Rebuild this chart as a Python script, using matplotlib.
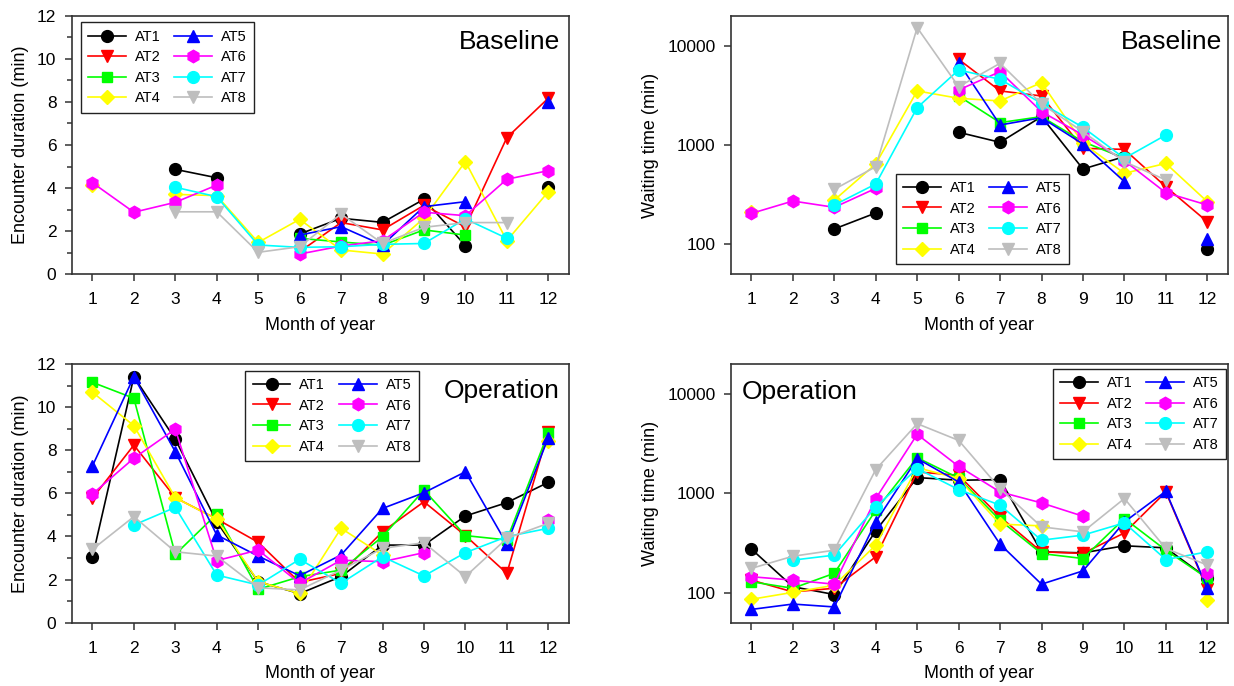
import numpy as np
import matplotlib
matplotlib.use("Agg")
import matplotlib.pyplot as plt
from matplotlib.ticker import FixedLocator, FuncFormatter, NullLocator, MultipleLocator

plt.rcParams['font.family'] = ['Liberation Sans', 'DejaVu Sans']

nan = np.nan
months = list(range(1, 13))
month_labels = [str(m) for m in months]
series_names = ["AT1", "AT2", "AT3", "AT4", "AT5", "AT6", "AT7", "AT8"]

# Baseline encounter duration (min)
base_dur_AT1 = [nan, nan, 4.87, 4.48, nan, 1.87, 2.6, 2.41, 3.48, 1.33, nan, 4.07]
base_dur_AT2 = [nan, nan, nan, nan, nan, 1.05, 2.4, 2.06, 3.2, 2.2, 6.34, 8.17]
base_dur_AT3 = [nan, nan, nan, nan, nan, 1.67, 1.5, 1.35, 2.06, 1.82, nan, nan]
base_dur_AT4 = [4.14, nan, 3.71, 3.65, 1.48, 2.55, 1.13, 0.94, 2.6, 5.23, 1.56, 3.83]
base_dur_AT5 = [nan, nan, nan, nan, nan, 1.82, 2.21, 1.36, 3.14, 3.37, nan, 8.01]
base_dur_AT6 = [4.25, 2.88, 3.34, 4.14, nan, 0.94, 1.31, 1.56, 2.88, 2.72, 4.41, 4.81]
base_dur_AT7 = [nan, nan, 4.04, 3.6, 1.36, 1.25, 1.28, 1.39, 1.43, 2.57, 1.67, nan]
base_dur_AT8 = [nan, nan, 2.9, 2.9, 1.02, 1.28, 2.8, 1.43, 2.18, 2.4, 2.4, nan]

# Baseline waiting time (min)
base_wait_AT1 = [nan, nan, 143, 207, nan, 1343, 1064, 1928, 573, 764, nan, 89]
base_wait_AT2 = [nan, nan, nan, nan, nan, 7280, 3500, 3115, 925, 904, 380, 169]
base_wait_AT3 = [nan, nan, nan, nan, nan, 3110, 1680, 1930, 1080, 735, nan, nan]
base_wait_AT4 = [213, nan, 279, 644, 3500, 2950, 2775, 4250, 1040, 519, 653, 269]
base_wait_AT5 = [nan, nan, nan, nan, nan, 6750, 1590, 1883, 1023, 428, nan, 112]
base_wait_AT6 = [205, 273, 236, 366, nan, 3580, 5470, 2166, 1260, 695, 331, 249]
base_wait_AT7 = [nan, nan, 249, 405, 2376, 5690, 4580, 2625, 1506, 735, 1260, nan]
base_wait_AT8 = [nan, nan, 358, 605, 15170, 3860, 6640, 2590, 1360, 679, 445, nan]

# Operation encounter duration (min)
op_dur_AT1 = [3.03, 11.41, 8.51, 4.68, 1.9, 1.35, 2.14, 3.6, 3.6, 4.95, 5.57, 6.51]
op_dur_AT2 = [5.77, 8.24, 5.8, 4.81, 3.73, 1.87, 2.29, 4.22, 5.61, 4.04, 2.29, 8.86]
op_dur_AT3 = [11.15, 10.41, 3.17, 5.04, 1.55, 2.13, 2.44, 3.99, 6.15, 4.04, 3.84, 8.81]
op_dur_AT4 = [10.69, 9.14, 5.8, 4.8, 1.9, 1.36, 4.38, 3.14, nan, nan, nan, 8.43]
op_dur_AT5 = [7.27, 11.41, 7.93, 4.07, 3.09, 2.18, 3.14, 5.3, 6.03, 7.0, 3.65, 8.58]
op_dur_AT6 = [5.97, 7.63, 8.98, 2.88, 3.37, 1.83, 2.9, 2.83, 3.25, nan, nan, 4.76]
op_dur_AT7 = [nan, 4.53, 5.35, 2.21, 1.75, 2.94, 1.83, 3.06, 2.17, 3.25, 3.99, 4.38]
op_dur_AT8 = [3.4, 4.92, 3.29, 3.09, 1.62, 1.52, 2.44, 3.45, 3.71, 2.14, 3.91, 4.61]

# Operation waiting time (min)
op_wait_AT1 = [275, 115, 96, 420, 1442, 1355, 1374, 258, 252, 297, 283, 140]
op_wait_AT2 = [134, 102, 111, 230, 1641, 1520, 580, 258, 249, 400, 1033, 108]
op_wait_AT3 = [129, 111, 157, 676, 2285, 1425, 537, 248, 221, 558, 268, 140]
op_wait_AT4 = [86, 101, 119, 301, 1816, 1406, 490, 471, nan, nan, nan, 85]
op_wait_AT5 = [68, 77, 72, 516, 2235, 1303, 308, 122, 166, 516, 1050, 111]
op_wait_AT6 = [145, 134, 122, 887, 3920, 1870, 1033, 801, 589, nan, nan, 159]
op_wait_AT7 = [nan, 213, 239, 729, 1775, 1092, 760, 338, 380, 505, 216, 258]
op_wait_AT8 = [176, 233, 268, 1734, 5020, 3410, 1117, 460, 410, 887, 279, 190]

base_dur = [base_dur_AT1, base_dur_AT2, base_dur_AT3, base_dur_AT4,
            base_dur_AT5, base_dur_AT6, base_dur_AT7, base_dur_AT8]
base_wait = [base_wait_AT1, base_wait_AT2, base_wait_AT3, base_wait_AT4,
             base_wait_AT5, base_wait_AT6, base_wait_AT7, base_wait_AT8]
op_dur = [op_dur_AT1, op_dur_AT2, op_dur_AT3, op_dur_AT4,
          op_dur_AT5, op_dur_AT6, op_dur_AT7, op_dur_AT8]
op_wait = [op_wait_AT1, op_wait_AT2, op_wait_AT3, op_wait_AT4,
           op_wait_AT5, op_wait_AT6, op_wait_AT7, op_wait_AT8]

colors = ["#000000", "#FF0000", "#00FF00", "#FFFF00",
          "#0000FF", "#FF00FF", "#00FFFF", "#BEBEBE"]
markers = ["o", "v", "s", "D", "^", "h", "o", "v"]
msizes = [8.5, 8.5, 7.5, 7.5, 8.5, 9, 8.5, 8.5]

W, H = 1234, 686
fig = plt.figure(figsize=(W / 100, H / 100), dpi=100)

def ax_rect(x0, y0, x1, y1):
    return [x0 / W, 1 - y1 / H, (x1 - x0) / W, (y1 - y0) / H]

spine_col = "#333333"

def style_axes(ax):
    for s in ax.spines.values():
        s.set_color(spine_col)
        s.set_linewidth(1.2)
    ax.tick_params(axis='both', which='major', direction='out', length=5,
                   width=1.1, color=spine_col, labelsize=12.5)
    ax.tick_params(axis='x', which='major', pad=8)
    ax.tick_params(axis='y', which='major', pad=6)
    ax.tick_params(axis='both', which='minor', direction='out', length=3.5,
                   width=1.1, color=spine_col)
    ax.set_xlim(0.5, 12.5)
    ax.xaxis.set_major_locator(FixedLocator(months))
    ax.set_xticklabels(month_labels)
    ax.xaxis.set_minor_locator(NullLocator())
    ax.set_xlabel("Month of year", fontsize=13, labelpad=7)

def draw(ax, data):
    handles = []
    for name, vals, c, m, ms in zip(series_names, data, colors, markers, msizes):
        h, = ax.plot(months, vals, color=c, marker=m, markersize=ms,
                     markeredgecolor=c, markerfacecolor=c, linewidth=1.2,
                     label=name)
        handles.append(h)
    return handles

def legend(ax, loc, anchor):
    leg = ax.legend(loc=loc, bbox_to_anchor=anchor, ncol=2, fontsize=10.5,
                    frameon=True, fancybox=False, edgecolor="#222222",
                    framealpha=1, borderaxespad=0, handlelength=2.6,
                    handletextpad=0.6, columnspacing=0.95, labelspacing=0.45,
                    borderpad=0.5, numpoints=1)
    leg.get_frame().set_linewidth(1.0)
    return leg

log_fmt = FuncFormatter(lambda v, p: "%d" % round(v))

# Top-left
ax1 = fig.add_axes(ax_rect(71.7, 15.7, 569, 274.3))
draw(ax1, base_dur)
style_axes(ax1)
ax1.set_ylim(0, 12)
ax1.yaxis.set_major_locator(MultipleLocator(2))
ax1.yaxis.set_minor_locator(MultipleLocator(1))
ax1.set_ylabel("Encounter duration (min)", fontsize=13, labelpad=6)
legend(ax1, "upper left", (0.018, 0.974))
ax1.text(0.982, 0.87, "Baseline", transform=ax1.transAxes, ha="right",
         va="baseline", fontsize=19)

# Top-right
ax2 = fig.add_axes(ax_rect(730.7, 15.7, 1228, 274.3))
draw(ax2, base_wait)
style_axes(ax2)
ax2.set_yscale("log")
ax2.set_ylim(50, 20000)
ax2.yaxis.set_major_locator(FixedLocator([100, 1000, 10000]))
ax2.yaxis.set_major_formatter(log_fmt)
ax2.yaxis.set_minor_locator(NullLocator())
ax2.set_ylabel("Waiting time (min)", fontsize=13, labelpad=6)
legend(ax2, "lower left", (0.332, 0.04))
ax2.text(0.989, 0.87, "Baseline", transform=ax2.transAxes, ha="right",
         va="baseline", fontsize=19)

# Bottom-left
ax3 = fig.add_axes(ax_rect(71.7, 364, 569, 622.7))
draw(ax3, op_dur)
style_axes(ax3)
ax3.set_ylim(0, 12)
ax3.yaxis.set_major_locator(MultipleLocator(2))
ax3.yaxis.set_minor_locator(MultipleLocator(1))
ax3.set_ylabel("Encounter duration (min)", fontsize=13, labelpad=6)
legend(ax3, "upper left", (0.349, 0.974))
ax3.text(0.982, 0.867, "Operation", transform=ax3.transAxes, ha="right",
         va="baseline", fontsize=19)

# Bottom-right
ax4 = fig.add_axes(ax_rect(730.7, 364, 1228, 622.7))
draw(ax4, op_wait)
style_axes(ax4)
ax4.set_yscale("log")
ax4.set_ylim(50, 20000)
ax4.yaxis.set_major_locator(FixedLocator([100, 1000, 10000]))
ax4.yaxis.set_major_formatter(log_fmt)
ax4.yaxis.set_minor_locator(NullLocator())
ax4.set_ylabel("Waiting time (min)", fontsize=13, labelpad=6)
legend(ax4, "upper right", (0.996, 0.981))
ax4.text(0.022, 0.865, "Operation", transform=ax4.transAxes, ha="left",
         va="baseline", fontsize=19)

fig.savefig("out.png", dpi=100)
